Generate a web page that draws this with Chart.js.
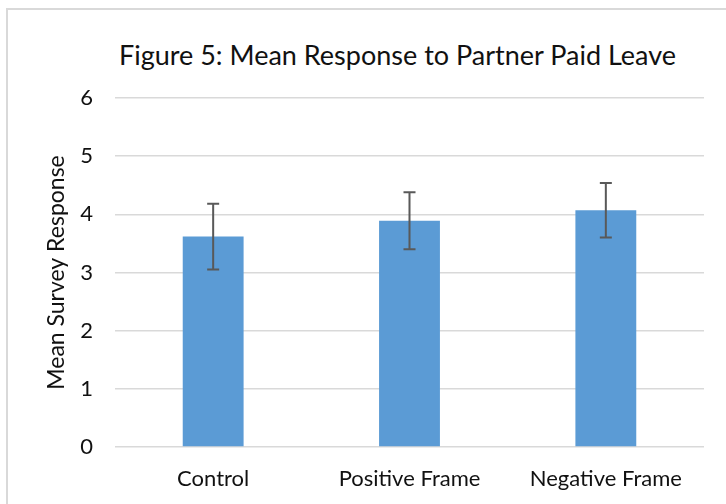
<!DOCTYPE html>
<html>
<head>
<meta charset="utf-8">
<script src="https://cdn.jsdelivr.net/npm/chart.js@4.4.1/dist/chart.umd.min.js"></script>
<style>
  html, body { margin: 0; padding: 0; background: #fff; overflow: hidden; }
  #wrap { position: relative; width: 726px; height: 504px; }
  #frame { position: absolute; left: 6px; top: 8px; width: 800px; height: 600px; border: 2px solid #d9d9d9; }
  #title { position: absolute; left: 69px; width: 657px; top: 39px; text-align: center;
           font: 27px Lato, sans-serif; line-height: 32.4px; color: #111; }
  canvas { position: absolute; left: 0; top: 0; }
</style>
</head>
<body>
<div id="wrap">
  <div id="frame"></div>
  <div id="title">Figure 5: Mean Response to Partner Paid Leave</div>
  <canvas id="myChart" width="726" height="504"></canvas>
</div>
<script>
// data
let categories = ["Control", "Positive Frame", "Negative Frame"];
let means = [3.62, 3.89, 4.07];
let errLow = [3.05, 3.40, 3.60];
let errHigh = [4.18, 4.38, 4.54];
let yTicks = [0, 1, 2, 3, 4, 5, 6];

// draws the error bars from errLow / errHigh through the chart's scales
const errorBars = {
    id: 'errorBars',
    afterDatasetsDraw(chart) {
        let ctx = chart.ctx;
        let x = chart.scales.x, y = chart.scales.y;
        ctx.save();
        ctx.strokeStyle = '#595959';
        ctx.lineWidth = 2;
        categories.forEach((c, i) => {
            let px = x.getPixelForValue(i);
            let top = y.getPixelForValue(errHigh[i]);
            let bot = y.getPixelForValue(errLow[i]);
            ctx.beginPath();
            ctx.moveTo(px, top); ctx.lineTo(px, bot);
            ctx.moveTo(px - 6, top); ctx.lineTo(px + 6, top);
            ctx.moveTo(px - 6, bot); ctx.lineTo(px + 6, bot);
            ctx.stroke();
        });
        ctx.restore();
    }
};

const ctx = document.getElementById('myChart').getContext('2d');
let myChart = new Chart(ctx, {
    type: 'bar',
    data: {
        labels: categories,
        datasets: [{ label: 'Mean Survey Response', data: means, backgroundColor: '#5b9bd5',
                     categoryPercentage: 1, barPercentage: 0.31 }]
    },
    options: {
        responsive: false,
        animation: false,
        devicePixelRatio: 1,
        layout: { padding: { top: 98, right: 22, bottom: 0, left: 0 } },
        plugins: { legend: { display: false }, tooltip: { enabled: false } },
        scales: {
            x: {
                grid: { display: false },
                border: { display: false },
                ticks: { color: '#111', font: { family: 'Lato', size: 22 }, padding: 11 },
                afterFit: s => { s.height = 57; }
            },
            y: {
                min: 0, max: 6,
                afterBuildTicks: s => { s.ticks = yTicks.map(v => ({ value: v })); },
                grid: { color: '#d9d9d9', lineWidth: 1.5, drawTicks: false },
                border: { display: false },
                ticks: { color: '#111', font: { family: 'Lato', size: 22 }, padding: 22 },
                title: { display: true, text: 'Mean Survey Response', color: '#111',
                         font: { family: 'Lato', size: 23 }, padding: { top: 43, bottom: 0 } },
                afterFit: s => { s.width = 115; }
            }
        }
    },
    plugins: [errorBars]
});
</script>
</body>
</html>
